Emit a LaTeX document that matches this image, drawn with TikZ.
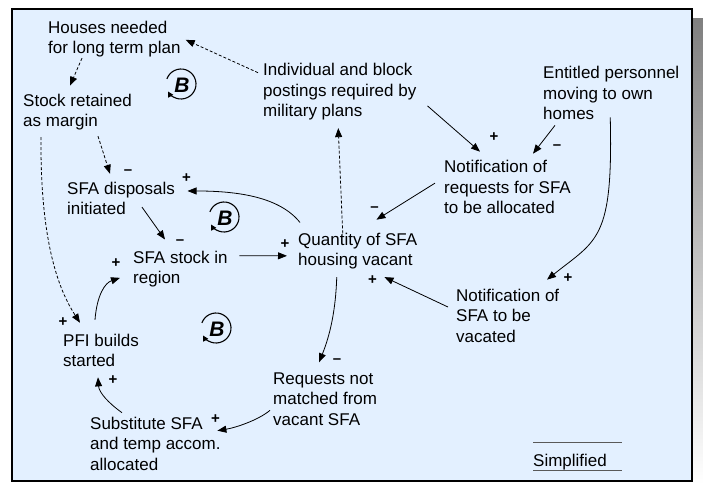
\documentclass[tikz,border=0pt]{standalone}
\usepackage{fontspec}
\setmainfont{Liberation Sans}
\usetikzlibrary{arrows.meta}
\definecolor{panel}{RGB}{227,240,255}
\definecolor{shade}{RGB}{128,128,128}
\tikzset{
  varbox/.style={anchor=base west, align=left, inner sep=0pt, font=\fontsize{17}{20.5}\selectfont},
  link/.style={->, >={Triangle[length=9pt,width=7pt]}, line width=0.8pt},
  dep/.style={link, dash pattern=on 3pt off 2pt},
  sgn/.style={font=\fontsize{15}{15}\selectfont\bfseries, inner sep=0pt},
  loopmark/.style={font=\fontsize{21}{21}\selectfont\bfseries\itshape, inner sep=0pt},
  looparc/.style={-{Triangle[length=5.5pt,width=5.5pt]}, line width=1.1pt},
}
\begin{document}
\begin{tikzpicture}[x=1pt, y=-1pt]
  \useasboundingbox (0,0) rectangle (703,484);
  % panel with its shadow
  \fill[shade] (21,19) rectangle (703,484);
  \draw[fill=panel, line width=1.5pt] (12,9) rectangle (692,481);

  % variables (placed at the baseline of their last line)
  \node[varbox] (houses) at (48,53.8) {Houses needed\\for long term plan};
  \node[varbox] (stock) at (23,126.5) {Stock retained\\as margin};
  \node[varbox] (disposals) at (67,214.8) {SFA disposals\\initiated};
  \node[varbox] (sfastock) at (133,283.5) {SFA stock in\\region};
  \node[varbox] (pfi) at (63,366.8) {PFI builds\\started};
  \node[varbox] (subst) at (90,470.3) {Substitute SFA\\and temp accom.\\allocated};
  \node[varbox] (requests) at (273,425) {Requests not\\matched from\\vacant SFA};
  \node[varbox] (qty) at (298,265.5) {Quantity of SFA\\housing vacant};
  \node[varbox] (notvac) at (456,342) {Notification of\\SFA to be\\vacated};
  \node[varbox] (notreq) at (444,213.7) {Notification of\\requests for SFA\\to be allocated};
  \node[varbox] (entitled) at (543,120) {Entitled personnel\\moving to own\\homes};
  \node[varbox] (postings) at (263,117) {Individual and block\\postings required by\\military plans};
  \node[varbox] (simplified) at (533,466) {Simplified};
  \draw[black!65, line width=0.8pt] ([shift={(0,-11)}]simplified.north west) -- ++(89,0);
  \draw[black!65, line width=0.8pt] ([shift={(0,0.5)}]simplified.south west) -- ++(89,0);

  % balancing loops
  \node[loopmark] (loopa) at (182,85) {B};
  \node[loopmark] (loopb) at (225,218) {B};
  \node[loopmark] (loopc) at (217,329) {B};
  \foreach \l in {loopa,loopb,loopc}
    \draw[looparc] ([shift={(-1,-1)}]\l.center) ++(-160:15) arc[start angle=-160, end angle=150, radius=15];

  % dashed links
  \draw[dep] ([shift={(-5,9.2)}]postings.north west) -- ([shift={(5,0.7)}]houses.east);
  \draw[dep] ([shift={(34,0.6)}]houses.south west) -- ([shift={(47,-7.8)}]stock.north west);
  \draw[dep] ([shift={(75,6)}]stock.south west) -- ([shift={(43,-8)}]disposals.north west)
    node[sgn, at end, shift={(18,-2)}] (s1) {--};
  \draw[dep] ([shift={(18,7)}]stock.south west) .. controls +(-1,113) and +(-18,-28) .. ([shift={(17,-11)}]pfi.north west)
    node[sgn, at end, shift={(-17,-1)}] (s2) {+};
  \draw[dep] ([shift={(-15,1)}]qty.north) -- ([shift={(-1.5,7.4)}]postings.south);

  % solid links
  \draw[link] ([shift={(2,-10)}]qty.north west) .. controls +(-20,-25) and +(52,0) .. ([shift={(12.4,-7.5)}]disposals.east)
    node[sgn, at end, shift={(-1,-13)}] (s3) {+};
  \draw[link] ([shift={(75,-8)}]disposals.south west) -- ([shift={(32,-11)}]sfastock.north west)
    node[sgn, at end, shift={(15,3)}] (s4) {--};
  \draw[link] ([shift={(32,-14)}]pfi.north west) .. controls +(2,-25) and +(-15,5) .. ([shift={(-13,9)}]sfastock.west)
    node[sgn, at end, shift={(-4,-15)}] (s5) {+};
  \draw[link] ([shift={(11.6,5.2)}]sfastock.north east) -- ([shift={(-11,5)}]qty.west)
    node[sgn, at end, shift={(-2,-12)}] (s6) {+};
  \draw[link] ([shift={(11,13.8)}]postings.east) -- ([shift={(36,-8.5)}]notreq.north west)
    node[sgn, at end, shift={(14,-15)}] (s7) {+};
  \draw[link] ([shift={(12,5)}]entitled.south west) -- ([shift={(89,-6.5)}]notreq.north west)
    node[sgn, at end, shift={(24,-7)}] (s8) {--};
  \draw[link] ([shift={(-9,-4)}]notreq.west) -- ([shift={(-41,-12.8)}]qty.north east)
    node[sgn, at end, shift={(-2,-11)}] (s9) {--};
  \draw[link] ([shift={(-1,-3)}]entitled.south) .. controls +(3,123) and +(50,-40) .. ([shift={(91,-8.8)}]notvac.north west)
    node[sgn, at end, shift={(21,-2)}] (s10) {+};
  \draw[link] ([shift={(-8,-8.4)}]notvac.west) -- ([shift={(-33,7.9)}]qty.south east)
    node[sgn, at end, shift={(-12,3)}] (s11) {+};
  \draw[link] ([shift={(-21,7.9)}]qty.south) .. controls +(-1,33) and +(11,-27) .. ([shift={(46,-9.8)}]requests.north west)
    node[sgn, at end, shift={(18,-1)}] (s12) {--};
  \draw[link] ([shift={(-3,11.6)}]requests.west) .. controls +(-12,10) and +(18,-3) .. ([shift={(-3.4,13.9)}]subst.north east)
    node[sgn, at end, shift={(-2,-12)}] (s13) {+};
  \draw[link] ([shift={(32,-4.1)}]subst.north west) .. controls +(-14,-10) and +(1,15) .. ([shift={(35,10.2)}]pfi.south west)
    node[sgn, at end, shift={(15,3)}] (s14) {+};
\end{tikzpicture}
\end{document}
